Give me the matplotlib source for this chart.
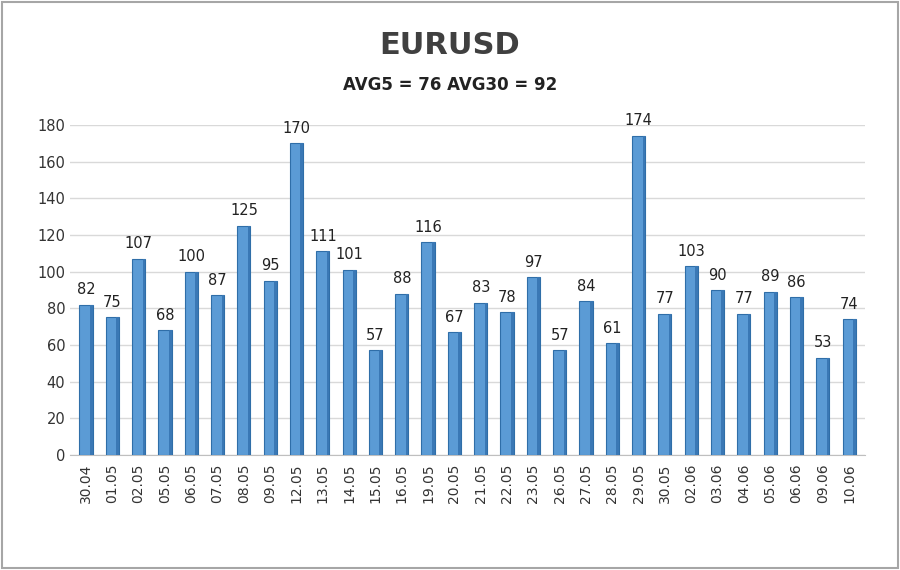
import matplotlib.pyplot as plt
import numpy as np

dates = ['30.04', '01.05', '02.05', '05.05', '06.05', '07.05', '08.05', '09.05',
         '12.05', '13.05', '14.05', '15.05', '16.05', '19.05', '20.05', '21.05',
         '22.05', '23.05', '26.05', '27.05', '28.05', '29.05', '30.05', '02.06',
         '03.06', '04.06', '05.06', '06.06', '09.06', '10.06']
values = [82, 75, 107, 68, 100, 87, 125, 95, 170, 111, 101, 57, 88, 116, 67, 83,
          78, 97, 57, 84, 61, 174, 77, 103, 90, 77, 89, 86, 53, 74]
avg5 = 76
avg30 = 92

fig = plt.figure(figsize=(9, 5.7), dpi=100)
ax = fig.add_axes([0.078, 0.202, 0.883, 0.579])

x = np.arange(len(values))
# main face and a darker side strip for a slight 3D look
ax.bar(x, values, width=0.5, color='#5b9bd5', edgecolor='#2f6ea8', linewidth=0.8, zorder=3)
ax.bar(x + 0.2, values, width=0.1, color='#3a78b5', linewidth=0, zorder=4)

for xi, v in zip(x, values):
    ax.text(xi, v + 4, str(v), ha='center', va='bottom', fontsize=10.5, color='#222222')

ax.set_xlim(-0.6, len(values) - 0.4)
ax.set_ylim(0, 180)
ax.set_yticks(range(0, 181, 20))
ax.set_xticks(x)
ax.set_xticklabels(dates, rotation=90, fontsize=10, color='#333333')
ax.tick_params(axis='y', labelsize=10.5, colors='#333333', length=0)
ax.tick_params(axis='x', length=0, pad=6)
ax.grid(axis='y', color='#d9d9d9', linewidth=1, zorder=0)
for s in ['top', 'right', 'left']:
    ax.spines[s].set_visible(False)
ax.spines['bottom'].set_color('#bfbfbf')

fig.text(0.5, 0.92, 'EURUSD', ha='center', va='center', fontsize=22, fontweight='bold', color='#404040')
fig.text(0.5, 0.85, f'AVG5 = {avg5} AVG30 = {avg30}', ha='center', va='center',
         fontsize=12, fontweight='bold', color='#222222')

border = plt.Rectangle((0.002, 0.003), 0.996, 0.994, transform=fig.transFigure,
                       fill=False, edgecolor='#a6a6a6', linewidth=1.5)
fig.patches.append(border)

fig.savefig('out.png', dpi=100)
